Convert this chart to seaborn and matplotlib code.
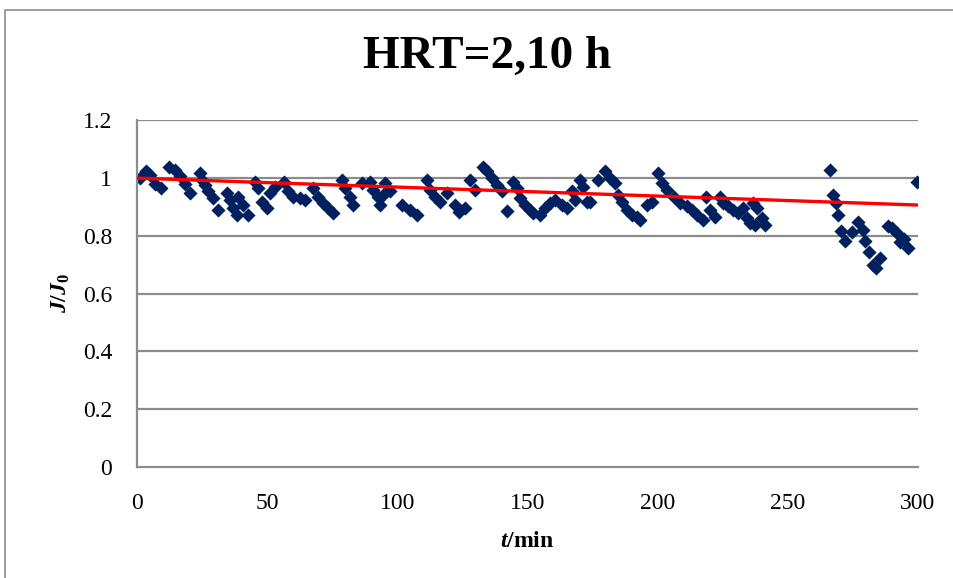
import numpy as np
import pandas as pd
import matplotlib
matplotlib.use("Agg")
import matplotlib.pyplot as plt
import seaborn as sns
from matplotlib.patches import Rectangle

# ---- data ----
t_min = [1.2, 3.5, 5.0, 6.9, 9.1,
         12.3, 14.6, 16.5, 18.4, 20.4,
         24.2, 24.8, 26.1, 27.3, 29.2, 31.1,
         34.4, 35.7, 36.9, 38.3, 38.8, 40.7, 42.6,
         45.3, 46.5, 47.9, 49.8, 51.1, 53.0, 56.6, 58.1, 60.0, 62.6, 64.5,
         67.7, 69.7, 71.6, 73.5, 75.4,
         78.9, 79.9, 81.8, 83.1, 86.3, 89.5, 90.8, 92.7, 93.4, 94.6, 95.3, 97.2,
         101.7, 104.9, 107.5,
         111.3, 112.6, 114.5, 116.4, 119.0, 122.2, 123.5, 126.0,
         127.9, 129.9, 133.0, 134.3, 136.2, 138.2, 140.1, 142.0,
         144.6, 145.9, 147.1, 149.0, 151.0, 152.2, 154.8, 156.7, 158.7, 160.6,
         163.1, 165.1, 167.0, 168.2, 170.2, 171.4, 172.7, 174.0,
         177.2, 179.8, 181.7, 183.6, 184.9, 186.2, 188.1, 190.0,
         192.0, 193.2, 195.8, 197.7, 200.3, 201.6, 203.5, 206.1, 208.6,
         211.2, 213.1, 215.0, 217.5, 218.6, 220.1, 222.0, 224.0, 225.2,
         227.2, 229.1, 231.0, 232.9, 234.2, 235.5, 236.8, 238.0, 237.5, 240.0, 241.3,
         266.2, 267.2, 268.5, 269.4, 270.3, 272.0, 274.5, 277.0, 279.0, 279.7,
         281.2, 282.8, 284.0, 285.5, 288.5, 290.0, 292.0, 293.2, 294.5, 296.0, 299.6]
j_ratio = [1.000, 1.024, 1.010, 0.980, 0.965,
           1.039, 1.028, 1.005, 0.980, 0.948,
           1.017, 0.993, 0.976, 0.953, 0.930, 0.890,
           0.947, 0.924, 0.896, 0.872, 0.935, 0.906, 0.872,
           0.987, 0.964, 0.918, 0.895, 0.947, 0.970, 0.987, 0.953, 0.935, 0.930, 0.924,
           0.965, 0.935, 0.912, 0.895, 0.879,
           0.993, 0.965, 0.935, 0.906, 0.981, 0.987, 0.958, 0.935, 0.906, 0.940, 0.981, 0.953,
           0.906, 0.889, 0.872,
           0.993, 0.958, 0.935, 0.918, 0.947, 0.906, 0.883, 0.895,
           0.993, 0.958, 1.039, 1.022, 0.999, 0.976, 0.953, 0.885,
           0.987, 0.964, 0.930, 0.906, 0.889, 0.878, 0.872, 0.895, 0.912, 0.924,
           0.906, 0.895, 0.953, 0.924, 0.993, 0.970, 0.918, 0.918,
           0.993, 1.022, 0.999, 0.981, 0.940, 0.918, 0.889, 0.872,
           0.866, 0.855, 0.906, 0.918, 1.016, 0.981, 0.958, 0.935, 0.912,
           0.901, 0.889, 0.872, 0.855, 0.935, 0.889, 0.866, 0.935, 0.912,
           0.901, 0.889, 0.878, 0.895, 0.860, 0.843, 0.912, 0.895, 0.837, 0.860, 0.837,
           1.028, 0.939, 0.913, 0.872, 0.817, 0.782, 0.813, 0.848, 0.820, 0.780,
           0.744, 0.700, 0.689, 0.723, 0.834, 0.825, 0.810, 0.779, 0.790, 0.758, 0.986]

# linear trendline as drawn in the reference (end points)
trend_t = [0.0, 299.6]
trend_j = [0.999, 0.906]

x_ticks = [0, 50, 100, 150, 200, 250, 300]
y_ticks = [0, 0.2, 0.4, 0.6, 0.8, 1.0, 1.2]
y_tick_labels = ["0", "0.2", "0.4", "0.6", "0.8", "1", "1.2"]
title_text = "HRT=2,10 h"

df = pd.DataFrame({"t": t_min, "J": j_ratio})
trend_df = pd.DataFrame({"t": trend_t, "J": trend_j})

sns.set_style("white")
plt.rcParams["font.family"] = ["Liberation Serif", "DejaVu Serif"]
plt.rcParams["text.color"] = "black"
plt.rcParams["axes.labelcolor"] = "black"
plt.rcParams["mathtext.fontset"] = "custom"
plt.rcParams["mathtext.rm"] = "Liberation Serif:bold"
plt.rcParams["mathtext.it"] = "Liberation Serif:italic:bold"
plt.rcParams["mathtext.bf"] = "Liberation Serif:bold"

W, H = 954, 578
fig = plt.figure(figsize=(W / 100, H / 100), dpi=100)
fig.patch.set_facecolor("white")
# outer chart border (partially cropped in reference)
fig.patches.append(Rectangle((5 / W, -0.05), 1.2, 1 - 10 / H + 0.05, transform=fig.transFigure,
                             fill=False, edgecolor="#8c8c8c", linewidth=1.2))

ax = fig.add_axes([137 / W, 1 - 467 / H, 781 / W, 347 / H])

grid_c = "#8c8c8c"
for yv in y_ticks[1:]:
    ax.axhline(yv, color=grid_c, linewidth=1.6, zorder=0)

sns.scatterplot(data=df, x="t", y="J", ax=ax, marker="D", s=52,
                color="#002060", linewidth=0, zorder=2)
sns.lineplot(data=trend_df, x="t", y="J", ax=ax, color="#ff0000",
             linewidth=2.4, zorder=3)

ax.set_xlim(0, 300)
ax.set_ylim(0, 1.2)
ax.set_xticks(x_ticks)
ax.set_xticklabels([str(v) for v in x_ticks])
ax.set_yticks(y_ticks)
ax.set_yticklabels(y_tick_labels)
ax.tick_params(axis="both", length=0, labelsize=17, colors="black")
ax.tick_params(axis="x", pad=19)
ax.tick_params(axis="y", pad=18)

for side in ["top", "right"]:
    ax.spines[side].set_visible(False)
for side in ["left", "bottom"]:
    ax.spines[side].set_color(grid_c)
    ax.spines[side].set_linewidth(1.6)

ax.set_xlabel(r"$\mathit{t}\mathrm{/min}$", fontsize=17, labelpad=12, color="black")
ax.set_ylabel(r"$\mathit{J/J}_{\mathrm{0}}$", fontsize=17, labelpad=8, color="black")

fig.text(487 / W, 1 - 57 / H, title_text, ha="center", va="center",
         fontsize=34, fontweight="bold", family="Liberation Serif", color="black")

fig.savefig("out.png", dpi=100)
